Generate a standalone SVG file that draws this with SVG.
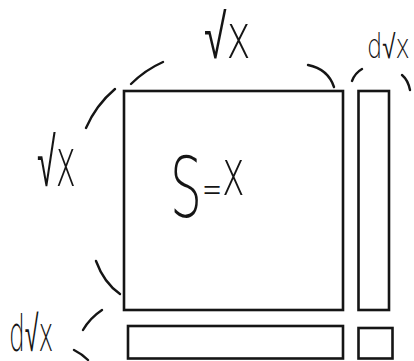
<svg xmlns="http://www.w3.org/2000/svg" width="414" height="361" viewBox="0 0 414 361">
<style>
.box{fill:#fff;stroke:#151515;stroke-width:2.6}
.arc{fill:none;stroke:#151515;stroke-width:2.4;stroke-linecap:round}
.t{font-family:"DejaVu Sans","Liberation Sans",sans-serif;font-weight:200;fill:#151515}
</style>
<rect width="414" height="361" fill="#fff"/>
<g id="square"><rect class="box" x="124" y="91" width="219" height="219"/></g>
<g id="right-bar"><rect class="box" x="358.5" y="91" width="30.5" height="219"/></g>
<g id="bottom-bar"><rect class="box" x="128" y="326" width="215" height="32.5"/></g>
<g id="corner"><rect class="box" x="358.5" y="328" width="34" height="30.5"/></g>
<g id="connectors">
<path class="arc" d="M131,84 Q145,70 163,62"/>
<path class="arc" d="M115,89 Q96,105 86,128"/>
<path class="arc" d="M96,261 Q104,283 120,294"/>
<path class="arc" d="M308,65 Q328,69 334,87"/>
<path class="arc" d="M352,81 Q355,73 362,69"/>
<path class="arc" d="M402,75 Q408,80 410,90"/>
<path class="arc" d="M83,330 Q90,318 102,310"/>
<path class="arc" d="M74,350 Q82,354 88,360"/>
</g>
<g id="labels">
<text class="t" font-size="62" transform="translate(204,58) scale(0.66,1)">√x</text>
<text class="t" font-size="68" transform="translate(37,186) scale(0.5,1)">√x</text>
<text class="t" font-size="33" transform="translate(367,58) scale(0.73,1)">d√x</text>
<text class="t" font-size="50" transform="translate(9,351) scale(0.5,1)">d√x</text>
<text class="t" transform="translate(170,217) scale(0.6,1)"><tspan font-size="84">S</tspan><tspan font-size="40" dy="-14">=</tspan><tspan font-size="64" dy="-8">x</tspan></text>
</g>
</svg>
